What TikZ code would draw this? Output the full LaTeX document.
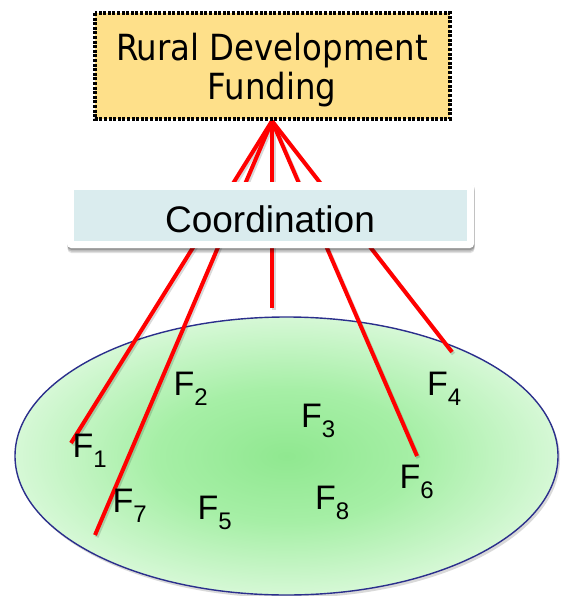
\documentclass[tikz,border=0pt]{standalone}
\usepackage{fontspec}
\setmainfont{Liberation Sans}
\newfontfamily\tahomalike{DejaVu Sans Condensed}
\usetikzlibrary{shapes.geometric,shadows}
\definecolor{fundfill}{RGB}{254,224,138}
\definecolor{coordfill}{RGB}{218,236,238}
\definecolor{gcenter}{RGB}{144,232,144}
\definecolor{gmid}{RGB}{166,239,166}
\definecolor{gedge}{RGB}{214,248,214}
\definecolor{rim}{RGB}{43,47,140}
\pgfdeclareradialshading{fieldglow}{\pgfpoint{0bp}{0bp}}{color(0bp)=(gcenter); color(12bp)=(gmid); color(25bp)=(gedge); color(50bp)=(gedge)}
\newcommand{\flab}[1]{F\raisebox{-10pt}{\fontsize{24}{24}\selectfont #1}}
\begin{document}
\begin{tikzpicture}[x=1pt,y=-1pt,
  fundbox/.style={fill=fundfill, minimum width=355pt, minimum height=106pt, inner sep=0pt, outer sep=0pt},
  fundrim/.style={draw=black, line width=3.2pt, dash pattern=on 3pt off 1.6pt},
  fundtext/.style={anchor=base, inner sep=0pt, font=\tahomalike\fontsize{36}{36}\selectfont},
  coordouter/.style={fill=white, rounded corners=4pt, minimum width=407pt, minimum height=66pt, inner sep=0pt,
    drop shadow={shadow xshift=0.5pt, shadow yshift=-5pt, opacity=0.12, fill=black},
    drop shadow={shadow xshift=0.5pt, shadow yshift=-3.5pt, opacity=0.15, fill=black},
    drop shadow={shadow xshift=0.5pt, shadow yshift=-2pt, opacity=0.2, fill=black}},
  coordinner/.style={fill=coordfill, minimum width=393pt, minimum height=51pt, inner sep=0pt},
  coordtext/.style={anchor=base, inner sep=0pt, font=\fontsize{37}{37}\selectfont},
  field/.style={ellipse, draw=rim, line width=1.4pt, shading=fieldglow, minimum width=543pt, minimum height=278pt, inner sep=0pt, drop shadow={shadow xshift=2pt, shadow yshift=-3pt, opacity=0.25, fill=black!60}},
  lab/.style={anchor=base west, inner sep=0pt, font=\fontsize{34}{34}\selectfont},
  redline/.style={draw=red, line width=4pt, preaction={draw=black, opacity=0.15, line width=4pt, transform canvas={xshift=1.5pt, yshift=-2pt}}}
]
\useasboundingbox (0,0) rectangle (560,596);

% field of actors
\node[field] (field) at (286.5,456) {};

% connector ends
\coordinate (src) at (272,121);
\coordinate (e1) at (71,443);
\coordinate (e7) at (95,535);
\coordinate (e3) at (272,308);
\coordinate (e6) at (417,456);
\coordinate (e4) at (452,352);

\draw[redline] (src) -- (e1);
\draw[redline] (src) -- (e7);
\draw[redline] (src) -- (e3);
\draw[redline] (src) -- (e6);
\draw[redline] (src) -- (e4);

% labels
\node[lab] (f1) at (72.5,457) {\flab{1}};
\node[lab] (f2) at (173.5,395) {\flab{2}};
\node[lab] (f3) at (301,427) {\flab{3}};
\node[lab] (f4) at (427,395) {\flab{4}};
\node[lab] (f5) at (197.5,519) {\flab{5}};
\node[lab] (f6) at (399.5,488) {\flab{6}};
\node[lab] (f7) at (112.5,512) {\flab{7}};
\node[lab] (f8) at (315,509) {\flab{8}};

% coordination box
\node[coordouter] (coord) at (270.5,215) {};
\node[coordinner] (coordin) at (270.5,215.5) {};
\node[coordtext] (coordlabel) at (270,232) {Coordination};

% funding box
\node[fundbox] (fund) at (272.5,66) {};
\draw[fundrim] (fund.north west) rectangle (fund.south east);
\node[fundtext] (fundl1) at (272,61) {Rural Development};
\node[fundtext] (fundl2) at (272,100) {Funding};
\end{tikzpicture}
\end{document}
